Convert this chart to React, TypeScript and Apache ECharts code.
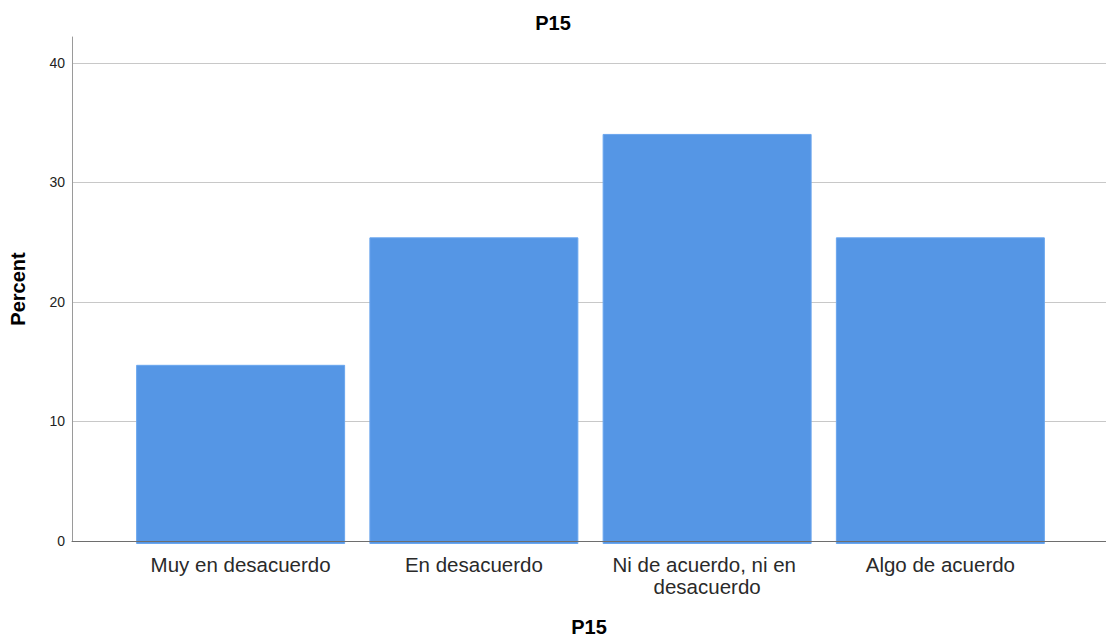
import React, { useEffect, useRef } from "react";
import * as echarts from "echarts";

const categories = [
  "Muy en desacuerdo",
  "En desacuerdo",
  "Ni de acuerdo, ni en desacuerdo",
  "Algo de acuerdo",
];
const percentValues = [14.9, 25.5, 34.1, 25.5];
const yTicks = [0, 10, 20, 30, 40];
const chartTitle = "P15";
const xAxisTitle = "P15";
const yAxisTitle = "Percent";

const Y_MAX = 42.16;

export default function App() {
  const ref = useRef<HTMLDivElement>(null);
  useEffect(() => {
    if (!ref.current) return;
    const chart = echarts.init(ref.current, null, { renderer: "svg" });
    const font = "Liberation Sans, Arial, sans-serif";
    chart.setOption({
      animation: false,
      backgroundColor: "#ffffff",
      title: {
        text: chartTitle,
        left: "center",
        top: 8,
        textStyle: { fontFamily: font, fontSize: 20, fontWeight: "bold", color: "#000" },
      },
      grid: [
        { left: 72, right: 0, top: 37, bottom: 98, containLabel: false },
        { left: 124, right: 49, top: 37, bottom: 98, containLabel: false },
      ],
      xAxis: [
        {
          gridIndex: 0,
          type: "value",
          min: 0,
          max: 1,
          axisLine: { show: true, lineStyle: { color: "#6e6e6e", width: 1 } },
          axisTick: { show: false },
          axisLabel: { show: false },
          splitLine: { show: false },
          name: xAxisTitle,
          nameLocation: "middle",
          nameGap: 76,
          nameTextStyle: { fontFamily: font, fontSize: 20, fontWeight: "bold", color: "#000" },
          z: 5,
        },
        {
          gridIndex: 1,
          type: "category",
          data: categories,
          axisLine: { show: false },
          axisTick: { show: false },
          axisLabel: {
            fontFamily: font,
            fontSize: 20.5,
            color: "#2a2a2a",
            margin: 9,
            lineHeight: 22,
            width: 215,
            overflow: "break",
            interval: 0,
          },
        },
      ],
      yAxis: [
        {
          gridIndex: 0,
          type: "value",
          min: 0,
          max: Y_MAX,
          interval: 10,
          axisLine: { show: true, lineStyle: { color: "#9a9a9a", width: 1 } },
          axisTick: { show: false },
          axisLabel: {
            fontFamily: font,
            fontSize: 14,
            color: "#222",
            margin: 7,
            showMaxLabel: false,
            formatter: (v: number) => (yTicks.includes(v) ? String(v) : ""),
          },
          splitLine: {
            show: true,
            showMaxLine: false,
            lineStyle: { color: "#c8c8c8", width: 1 },
          },
          name: yAxisTitle,
          nameLocation: "middle",
          nameGap: 44,
          nameTextStyle: { fontFamily: font, fontSize: 20, fontWeight: "bold", color: "#000" },
        },
        {
          gridIndex: 1,
          type: "value",
          min: 0,
          max: Y_MAX,
          show: false,
          splitLine: { show: false },
        },
      ],
      series: [
        {
          type: "bar",
          xAxisIndex: 1,
          yAxisIndex: 1,
          data: percentValues,
          barCategoryGap: "10.4%",
          itemStyle: { color: "#5596e5", borderColor: "#6aa6ee", borderWidth: 1 },
          z: 2,
        },
      ],
    });
    return () => chart.dispose();
  }, []);
  return (
    <div
      ref={ref}
      style={{ position: "absolute", left: 0, top: 0, width: 1106, height: 642 }}
    />
  );
}
